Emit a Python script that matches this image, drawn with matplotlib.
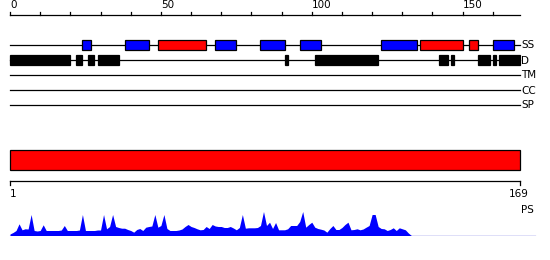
import matplotlib
matplotlib.use("Agg")
import matplotlib.pyplot as plt
from matplotlib.patches import Rectangle

# ---------------- data ----------------
seq_len = 169
ruler_ticks = list(range(0, 170, 10))
ruler_labels = [0, 50, 100, 150]

ss_helix_starts = [24, 38, 68, 83, 96, 123, 160]
ss_helix_ends = [27, 46, 75, 91, 103, 135, 167]
ss_strand_starts = [49, 136, 152]
ss_strand_ends = [65, 150, 155]

dis_starts = [0, 22, 26, 29, 91, 101, 142, 146, 155, 160, 162]
dis_ends = [20, 24, 28, 36, 92, 122, 145, 147, 159, 161, 169]

track_names = ["SS", "D", "TM", "CC", "SP"]
track_rows = [45, 60, 75, 90, 105]

domain_start = 1
domain_end = 169

ps_values = [1.5, 3, 5, 11.7, 5.7, 6.7, 6.5, 21, 5, 4.5,
             5, 10.7, 5, 5, 5, 5, 5, 5.5, 10, 5,
             5, 5, 5, 5.5, 21, 5, 5, 5, 5, 5.5,
             5.5, 21, 6.7, 9, 21, 9, 8, 7.3, 7.3, 6,
             5, 3.3, 6, 7, 5, 8.3, 9, 9.5, 21, 8.3,
             10, 21, 7, 5, 5, 5, 5.5, 6.5, 9, 11,
             9, 8, 6.7, 5.7, 6, 9, 7, 11, 9.5, 9,
             9, 8, 8, 9, 7.5, 5.7, 8, 21, 7.3, 7.7,
             7.7, 7.7, 8, 10, 24, 10, 13.3, 7, 13, 5.7,
             5.7, 5.7, 6.7, 10, 10, 10, 14, 24, 8.3, 11,
             13.3, 8.3, 7, 6.3, 5.5, 3.3, 7, 10, 6, 6,
             8, 11, 13.3, 5.7, 6, 6.7, 5.7, 6.5, 8.3, 10,
             21, 21, 9, 7, 6.7, 5, 6, 7.7, 5, 7.7,
             6.7, 5.7, 2.5, 0]
ps_positions = list(range(len(ps_values)))
ps_line_end = 174

# ---------------- figure ----------------
W, H = 550, 260
fig = plt.figure(figsize=(W / 100, H / 100), dpi=100)
plt.rcParams['font.family'] = ['DejaVu Sans']

scale = 510 / seq_len          # pixels per residue
xl = (-10 / scale, (W - 10) / scale)

ax = fig.add_axes([0, 0, 1, 1])
ax.set_xlim(*xl)
ax.set_ylim(H, 0)
ax.axis('off')

lw = 0.9
fs = 7.5

# top ruler
ax.plot([0, seq_len], [15, 15], color='black', lw=lw)
for t in ruler_ticks:
    ax.plot([t, t], [12, 15], color='black', lw=lw)
for t in ruler_labels:
    ax.text(t, 10, str(t), ha='left', va='bottom', fontsize=fs)

# tracks
for name, row in zip(track_names, track_rows):
    ax.plot([0, seq_len], [row, row], color='black', lw=lw, zorder=1)
    ax.text(seq_len + 0.4, row + 0.5, name, ha='left', va='center', fontsize=fs)

row = track_rows[0]
for s, e in zip(ss_helix_starts, ss_helix_ends):
    ax.add_patch(Rectangle((s, row - 5), e - s, 10, facecolor='#0000ff',
                           edgecolor='black', lw=lw, zorder=2))
for s, e in zip(ss_strand_starts, ss_strand_ends):
    ax.add_patch(Rectangle((s, row - 5), e - s, 10, facecolor='#ff0000',
                           edgecolor='black', lw=lw, zorder=2))

row = track_rows[1]
for s, e in zip(dis_starts, dis_ends):
    ax.add_patch(Rectangle((s, row - 5), e - s, 10, facecolor='black',
                           edgecolor='black', lw=lw, zorder=2))

# domain bar
ax.add_patch(Rectangle((0, 150), seq_len, 20, facecolor='#ff0000',
                       edgecolor='black', lw=lw, zorder=2))

# bottom ruler
ax.plot([0, seq_len], [181, 181], color='black', lw=lw)
ax.plot([0, 0], [181, 185], color='black', lw=lw)
ax.plot([seq_len, seq_len], [181, 185], color='black', lw=lw)
ax.text(0, 189, str(domain_start), ha='left', va='top', fontsize=fs)
ax.text(seq_len - 0.5, 189, str(domain_end), ha='center', va='top', fontsize=fs)
ax.text(seq_len + 0.4, 210, "PS", ha='left', va='center', fontsize=fs)

# PS profile
ax2 = fig.add_axes([0, (H - 235.5) / H, 1, 30 / H])
ax2.set_xlim(*xl)
ax2.set_ylim(0, 30)
ax2.axis('off')
ax2.fill_between(ps_positions, 0, ps_values, color='#0000ff', lw=0)
ax2.plot([0, ps_line_end], [0, 0], color='#0000cc', lw=lw)

fig.savefig("out.png", dpi=100)
